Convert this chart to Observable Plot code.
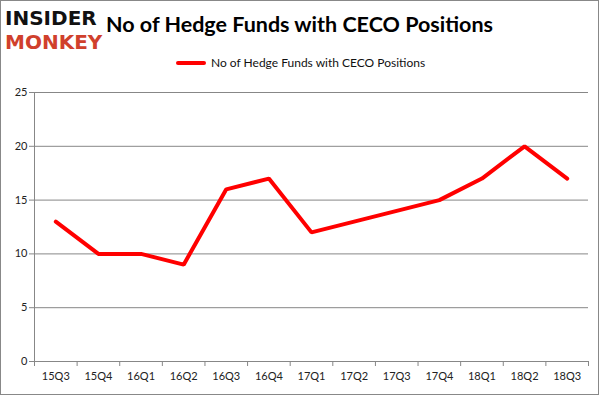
<!DOCTYPE html>
<html>
<head>
<meta charset="utf-8">
<script src="https://cdn.jsdelivr.net/npm/d3@7"></script>
<script src="https://cdn.jsdelivr.net/npm/@observablehq/plot@0.6"></script>
<style>
  body { margin: 0; background: #fff; }
  #frame { position: relative; width: 599px; height: 395px; box-sizing: border-box; border: 1px solid #888; background: #fff; font-family: Lato, "Open Sans", sans-serif; overflow: hidden; }
  #logo { position: absolute; left: 4px; top: 6px; font-family: "DejaVu Sans", sans-serif; font-weight: bold; font-size: 20px; line-height: 23.5px; color: #111; white-space: nowrap; }
  #logo .b { color: #d0402c; }
  #title { position: absolute; left: 0; right: 0; top: 10px; text-align: center; font-size: 21.5px; font-weight: bold; color: #000; }
  #legend { position: absolute; left: 175px; top: 54px; font-size: 12px; color: #111; display: flex; align-items: center; }
  #legend .sw { width: 30px; height: 4px; background: #ff0000; margin-right: 5px; border-radius: 2px; }
  #plot { position: absolute; left: 0; top: 79px; }
</style>
</head>
<body>
<div id="frame">
  <div id="logo">INSIDER<br><span class="b">MONKEY</span></div>
  <div id="title">No of Hedge Funds with CECO Positions</div>
  <div id="legend"><div class="sw"></div><span>No of Hedge Funds with CECO Positions</span></div>
  <div id="plot"></div>
</div>
<script>
const quarters = ["15Q3","15Q4","16Q1","16Q2","16Q3","16Q4","17Q1","17Q2","17Q3","17Q4","18Q1","18Q2","18Q3"];
const funds = [13, 10, 10, 9, 16, 17, 12, 13, 14, 15, 17, 20, 17];
const yTicks = [0, 5, 10, 15, 20, 25];
const seriesName = "No of Hedge Funds with CECO Positions";

const data = quarters.map((q, i) => ({i, q, v: funds[i]}));
const idx = quarters.map((_, i) => i);
const edges = [...idx.map(i => i - 0.5), quarters.length - 0.5];

const chart = Plot.plot({
  width: 597,
  height: 314,
  marginLeft: 33,
  marginRight: 10,
  marginTop: 12,
  marginBottom: 33,
  style: { fontFamily: "Lato, 'Open Sans', sans-serif", fontSize: "11px", color: "#222", background: "transparent" },
  x: { type: "linear", domain: [-0.5, quarters.length - 0.5] },
  y: { domain: [0, 25] },
  marks: [
    Plot.gridY(yTicks, { stroke: "#878787", strokeOpacity: 1 }),
    Plot.axisY(yTicks, { tickSize: 5, tickPadding: 2, stroke: "#878787", label: null, fill: "#222" }),
    Plot.ruleX([-0.5], { stroke: "#878787" }),
    Plot.ruleY([0], { stroke: "#878787" }),
    Plot.axisX(edges, { tickSize: 5, stroke: "#878787", tickFormat: () => "", label: null }),
    Plot.axisX(idx, { tickSize: 0, tickPadding: 11, tickFormat: i => quarters[i], label: null, fill: "#222" }),
    Plot.lineY(data, { x: "i", y: "v", stroke: "#ff0000", strokeWidth: 4, strokeLinejoin: "miter", title: () => seriesName })
  ]
});
document.getElementById("plot").appendChild(chart);
</script>
</body>
</html>
